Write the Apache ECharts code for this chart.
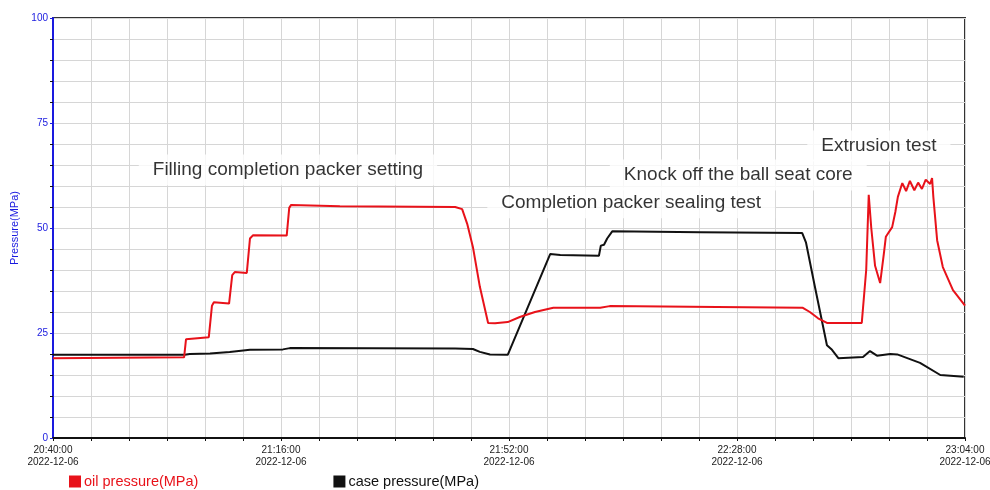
<!DOCTYPE html>
<html>
<head>
<meta charset="utf-8">
<script src="https://cdn.jsdelivr.net/npm/echarts@6/dist/echarts.min.js"></script>
<style>
  html, body { margin: 0; padding: 0; background: #fff; }
  #chart { width: 990px; height: 490px; }
</style>
</head>
<body>
<div id="chart"></div>
<script>
// time in minutes after 2022-12-06 20:40:00
const startLabel = '2022-12-06'
const startMinute = 20 * 60 + 40

const oilTime = [0, 20.7, 21.0, 21.3, 24.6, 25.1, 25.4, 27.8, 28.3, 28.7, 30.6, 31.1, 31.6, 36.9, 37.3, 37.6,
  45.3, 63.5, 64.6, 65.4, 66.3, 67.4, 68.7, 69.8, 71.8, 73.7, 76.1, 79.0, 86.4, 87.9, 104.8, 118.4, 119.5,
  120.8, 122.2, 127.7, 128.4, 128.8, 129.2, 129.8, 130.6, 131.2, 131.5, 132.5, 133.0, 133.4, 134.1, 134.7,
  135.3, 136.0, 136.6, 137.2, 137.8, 138.5, 138.8, 139.0, 139.6, 140.5, 142.1, 144.0]
const oilPressure = [19.0, 19.2, 23.5, 23.9, 24.0, 31.5, 32.3, 32.0, 38.8, 39.5, 39.3, 47.5, 48.3, 48.2, 54.8, 55.5,
  55.2, 55.0, 54.5, 51.0, 45.5, 36.0, 27.4, 27.3, 27.6, 28.8, 30.0, 31.0, 31.0, 31.4, 31.2, 31.0, 30.0,
  28.5, 27.4, 27.4, 40.0, 57.9, 50.0, 41.0, 36.9, 44.0, 47.9, 50.2, 53.8, 57.4, 60.7, 58.8,
  61.2, 59.0, 60.8, 59.3, 61.5, 60.5, 61.9, 57.4, 47.1, 40.7, 35.2, 31.5]

const caseTime = [0, 20.8, 21.6, 24.8, 27.9, 31.1, 36.3, 37.4, 63.5, 66.3, 67.4, 69.0, 71.8, 78.5, 80.1, 86.2,
  86.5, 87.0, 87.5, 88.3, 102.2, 118.3, 118.9, 120.3, 122.2, 123.0, 124.0, 127.9, 129.0, 130.1, 132.2,
  133.3, 136.9, 140.1, 143.8]
const casePressure = [19.8, 19.8, 20.0, 20.1, 20.5, 21.0, 21.1, 21.4, 21.3, 21.2, 20.5, 19.9, 19.8, 43.8, 43.6, 43.4,
  45.8, 46.0, 47.5, 49.2, 49.0, 48.8, 46.5, 36.0, 22.1, 21.0, 19.0, 19.3, 20.7, 19.6, 20.0,
  19.9, 17.9, 15.0, 14.6]

const noteText = ['Filling completion packer setting', 'Completion packer sealing test',
  'Knock off the ball seat core', 'Extrusion test']
const noteTime = [37.1, 91.3, 108.2, 130.4]
const noteValue = [63.8, 56.0, 62.6, 69.5]

const zip = (xs, ys) => xs.map((x, i) => [x, ys[i]])
const pad = (n) => String(n).padStart(2, '0')
const timeLabel = (m) => {
  const t = startMinute + Math.round(m)
  return pad(Math.floor(t / 60)) + ':' + pad(t % 60) + ':00\n' + startLabel
}

const chart = echarts.init(document.getElementById('chart'))

chart.setOption({
  animation: false,
  textStyle: { fontFamily: 'Liberation Sans, Arial, sans-serif' },
  grid: {
    left: 53, right: 25, top: 18, bottom: 52,
    outerBoundsMode: 'none', containLabel: false,
    show: true, borderColor: '#333', borderWidth: 2, backgroundColor: '#fff'
  },
  legend: {
    left: 69, top: 474, padding: 0,
    icon: 'rect', itemWidth: 12, itemHeight: 12, itemGap: 135,
    textStyle: { fontSize: 14.5, padding: [0, 0, 0, -2] },
    data: [
      { name: 'oil pressure(MPa)', textStyle: { color: '#e8121a' } },
      { name: 'case pressure(MPa)', textStyle: { color: '#111' } }
    ]
  },
  xAxis: {
    type: 'value', min: 0, max: 144, interval: 36,
    axisLine: { show: true, onZero: false, lineStyle: { color: '#111', width: 2 } },
    axisTick: { show: true, length: 3, lineStyle: { color: '#111' } },
    minorTick: { show: true, splitNumber: 6, length: 3, lineStyle: { color: '#111' } },
    splitLine: { show: true, lineStyle: { color: '#d6d6d6', width: 1 } },
    minorSplitLine: { show: true, lineStyle: { color: '#d6d6d6', width: 1 } },
    axisLabel: { formatter: timeLabel, fontSize: 10, color: '#222', lineHeight: 12, margin: 6 }
  },
  yAxis: {
    type: 'value', min: 0, max: 100, interval: 25,
    name: 'Pressure(MPa)', nameLocation: 'middle', nameGap: 33,
    nameTextStyle: { color: '#1a1adf', fontSize: 11 },
    axisLine: { show: true, lineStyle: { color: '#1a1adf', width: 2 } },
    axisTick: { show: true, length: 3, lineStyle: { color: '#1a1adf' } },
    minorTick: { show: true, splitNumber: 5, length: 3, lineStyle: { color: '#111' } },
    splitLine: { show: true, lineStyle: { color: '#d6d6d6', width: 1 } },
    minorSplitLine: { show: true, lineStyle: { color: '#d6d6d6', width: 1 } },
    axisLabel: { fontSize: 10, color: '#1a1adf', margin: 5 }
  },
  series: [
    {
      name: 'oil pressure(MPa)', type: 'line', showSymbol: false,
      data: zip(oilTime, oilPressure),
      itemStyle: { color: '#e8121a' },
      lineStyle: { color: '#e8121a', width: 2 }, z: 3
    },
    {
      name: 'case pressure(MPa)', type: 'line', showSymbol: false,
      data: zip(caseTime, casePressure),
      itemStyle: { color: '#111' },
      lineStyle: { color: '#111', width: 2 }, z: 2
    },
    {
      name: 'notes', type: 'scatter', symbolSize: 0, silent: true, z: 5,
      itemStyle: { color: '#000' },
      data: noteTime.map((t, i) => ({ value: [t, noteValue[i]], name: noteText[i] })),
      label: {
        show: true, position: 'inside', formatter: '{b}',
        fontSize: 19, color: '#000', textBorderWidth: 0,
        backgroundColor: '#fff', padding: [6, 14]
      }
    }
  ]
})
</script>
</body>
</html>
